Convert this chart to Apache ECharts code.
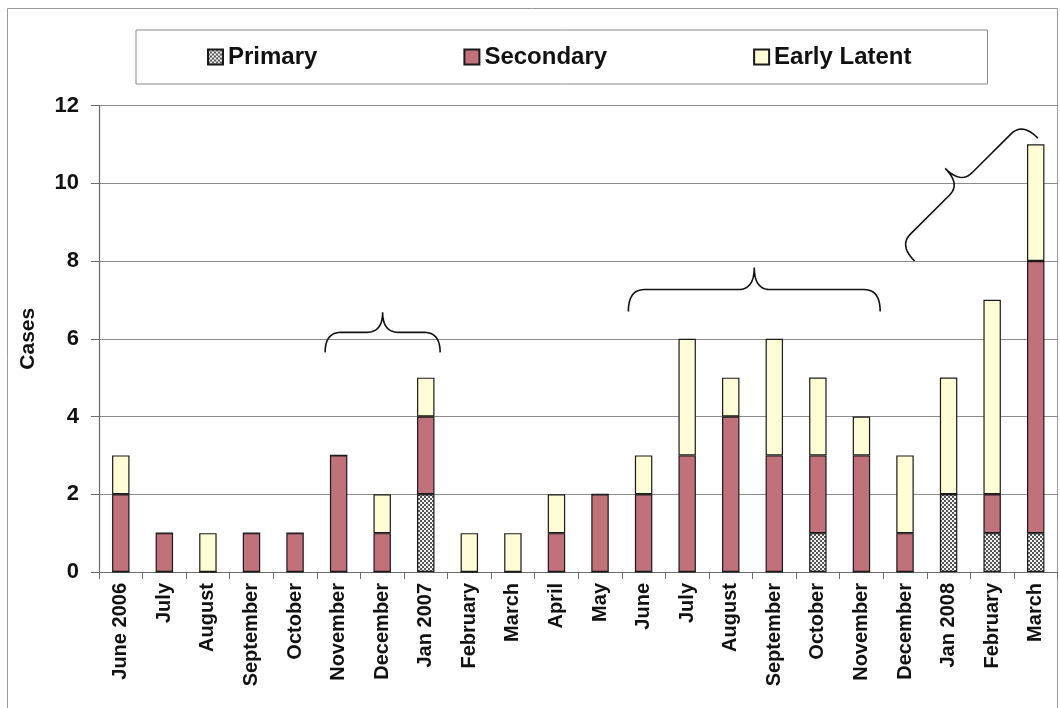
<!DOCTYPE html>
<html>
<head>
<meta charset="utf-8">
<script src="https://cdn.jsdelivr.net/npm/echarts@6/dist/echarts.min.js"></script>
<style>
html,body{margin:0;padding:0;background:#fff;}
#main{width:1060px;height:708px;}
</style>
</head>
<body>
<div id="main"></div>
<script>
// months on the x axis
var months = ['June 2006','July','August','September','October','November','December','Jan 2007','February','March','April','May',
	'June','July','August','September','October','November','December','Jan 2008','February','March'];
// cases per stage
var primary   = [0,0,0,0,0,0,0,2,0,0,0,0,0,0,0,0,1,0,0,2,1,1];
var secondary = [2,1,0,1,1,3,1,2,0,0,1,2,2,3,4,3,2,3,1,0,1,7];
var early     = [1,0,1,0,0,0,1,1,1,1,1,0,1,3,1,3,2,1,2,3,5,3];
var yTicks = [0,12,2]; // min, max, step

var FONT = 'Liberation Sans';

// checker fill for Primary
function checker(){
	var c = document.createElement('canvas');
	c.width = 4; c.height = 4;
	var ctx = c.getContext('2d');
	ctx.fillStyle = '#f2f2f2';
	ctx.fillRect(0,0,4,4);
	ctx.fillStyle = '#555555';
	ctx.fillRect(0,0,2,2);
	ctx.fillRect(2,2,2,2);
	return c;
}

var myChart = echarts.init(document.getElementById('main'));

function mkSeries(name, data, color){
	return {
		name: name,
		type: 'bar',
		stack: 'cases',
		data: data,
		barWidth: '40%',
		itemStyle: {color: color, borderColor: '#1a1a1a', borderWidth: 1.2},
		emphasis: {disabled: true}
	};
}

myChart.setOption({
	animation: false,
	textStyle: {fontFamily: FONT},
	legend: {
		left: 136, top: 30,
		padding: [15, 76, 15, 71],
		itemGap: 146,
		icon: 'rect',
		itemWidth: 15, itemHeight: 15,
		borderColor: '#8a8a8a', borderWidth: 1,
		textStyle: {fontSize: 24, fontWeight: 'bold', color: '#111', fontFamily: FONT},
		data: ['Primary','Secondary','Early Latent']
	},
	grid: {left: 99, right: 2.5, top: 105.5, bottom: 136, containLabel: false},
	xAxis: {
		type: 'category',
		data: months,
		axisLine: {lineStyle: {color: '#6a6a6a', width: 1.2}},
		axisTick: {show: true, length: 7, lineStyle: {color: '#6a6a6a'}},
		axisLabel: {
			rotate: 90, interval: 0, margin: 11,
			fontSize: 20, fontWeight: 'bold', color: '#111', fontFamily: FONT
		}
	},
	yAxis: {
		type: 'value',
		min: yTicks[0], max: yTicks[1], interval: yTicks[2],
		name: 'Cases',
		nameLocation: 'middle',
		nameGap: 60,
		nameRotate: 90,
		nameTextStyle: {fontSize: 21, fontWeight: 'bold', color: '#111', fontFamily: FONT},
		axisLine: {show: true, lineStyle: {color: '#6a6a6a', width: 1.2}},
		axisTick: {show: true, length: 8, lineStyle: {color: '#6a6a6a'}},
		axisLabel: {margin: 20, fontSize: 22, fontWeight: 'bold', color: '#111', fontFamily: FONT},
		splitLine: {lineStyle: {color: '#8c8c8c', width: 1.2}}
	},
	series: [
		mkSeries('Primary', primary, {image: checker(), repeat: 'repeat'}),
		mkSeries('Secondary', secondary, '#c0717a'),
		mkSeries('Early Latent', early, '#fffcd6')
	]
});

//// brace points: a,b ends in pixels, h = height toward the tip side
function bracePoints(a, b, h){
	var dx = b[0]-a[0], dy = b[1]-a[1];
	var L = Math.sqrt(dx*dx+dy*dy);
	var ux = dx/L, uy = dy/L;
	var nx = uy, ny = -ux; // normal, tip side
	var r = 16, m = h/2;
	var pts = [];
	function p(s, t){
		return [a[0]+ux*s+nx*t, a[1]+uy*s+ny*t];
	}
	function q(p0, p1, p2){// quadratic curve, sampled
		for(var k=0;k<=12;k++){
			var t = k/12, w0 = (1-t)*(1-t), w1 = 2*t*(1-t), w2 = t*t;
			pts.push(p(w0*p0[0]+w1*p1[0]+w2*p2[0], w0*p0[1]+w1*p1[1]+w2*p2[1]));
		}
	}
	q([0,0],[0,m],[r,m]);
	q([L/2-r,m],[L/2,m],[L/2,h]);
	q([L/2,h],[L/2,m],[L/2+r,m]);
	q([L-r,m],[L,m],[L,0]);
	return pts;
}

// category position (fractional) -> pixel
var c0 = myChart.convertToPixel({xAxisIndex:0, yAxisIndex:0}, [0, 0]);
var c1 = myChart.convertToPixel({xAxisIndex:0, yAxisIndex:0}, [1, 0]);
function pt(idx, val){
	var y = myChart.convertToPixel({yAxisIndex:0}, val);
	return [c0[0]+(c1[0]-c0[0])*idx, y];
}

var braces = [
	[pt(4.69, 5.65), pt(7.33, 5.65), 40],
	[pt(11.65, 6.7), pt(17.43, 6.7), 44],
	[pt(18.22, 8.0), pt(21.05, 11.16), 44]
];
var gr = [{
	type: 'rect', silent: true,
	shape: {x: 7.5, y: 8.5, width: 1050, height: 720},
	style: {fill: 'none', stroke: '#9a9a9a', lineWidth: 1},
	z: -1
}];
for(var i=0;i<braces.length;i++){
	gr.push({
		type: 'polyline', silent: true,
		shape: {points: bracePoints(braces[i][0], braces[i][1], braces[i][2])},
		style: {fill: null, stroke: '#111', lineWidth: 1.6}
	});
}
myChart.setOption({graphic: gr});
</script>
</body>
</html>
